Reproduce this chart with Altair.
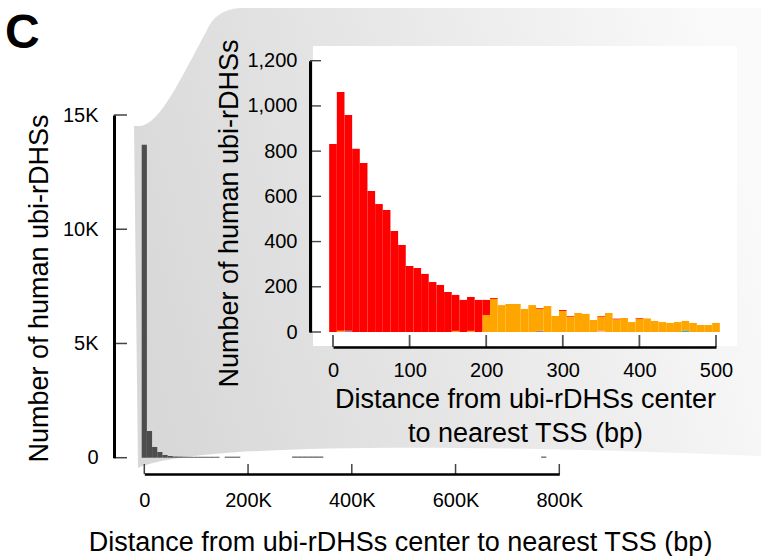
import altair as alt
import pandas as pd

FONT = "Liberation Sans"

# ---------------- data ----------------
# main histogram (10 kb bins, bin centres in bp)
main_centers = [0, 10000, 20000, 30000, 40000, 50000, 60000, 70000, 80000, 90000,
                100000, 110000, 120000, 130000, 140000, 160000, 170000, 180000,
                290000, 300000, 310000, 320000, 330000, 340000, 770000]
main_counts = [13700, 1170, 470, 250, 120, 75, 50, 45, 40, 40,
               40, 40, 40, 40, 40, 45, 45, 45,
               50, 50, 50, 50, 50, 50, 50]
main_x_ticks = [0, 200000, 400000, 600000, 800000]
main_y_ticks = [0, 5000, 10000, 15000]

# inset histogram (10 bp bins, bin centres in bp)
inset_centers = [0, 10, 20, 30, 40, 50, 60, 70, 80, 90,
                 100, 110, 120, 130, 140, 150, 160, 170, 180, 190,
                 200, 210, 220, 230, 240, 250, 260, 270, 280, 290,
                 300, 310, 320, 330, 340, 350, 360, 370, 380, 390,
                 400, 410, 420, 430, 440, 450, 460, 470, 480, 490,
                 500]
inset_red = [832, 1057, 955, 810, 748, 624, 566, 540, 447, 385,
             292, 283, 257, 221, 208, 177, 159, 142, 150, 142,
             67, 4, 0, 0, 0, 0, 0, 3, 0, 0,
             4, 3, 0, 0, 0, 3, 0, 3, 0, 0,
             3, 0, 0, 0, 0, 0, 0, 0, 0, 0,
             0]
inset_orange = [0, 5, 0, 0, 0, 0, 0, 0, 0, 0,
                0, 0, 0, 0, 0, 0, 5, 0, 5, 0,
                75, 146, 119, 124, 124, 102, 119, 98, 115, 71,
                93, 68, 84, 80, 53, 63, 84, 56, 62, 44,
                59, 60, 49, 44, 40, 44, 44, 40, 31, 31,
                40]
inset_grey = {20: 5, 270: 5}
inset_pink = {350: 5}
inset_cyan = {460: 5}
inset_x_ticks = [0, 100, 200, 300, 400, 500]
inset_y_ticks = [0, 200, 400, 600, 800, 1000, 1200]

categories = ["DNase-only", "DNase-H3K4me3", "CTCF-only", "Enhancer-like", "Promoter-like"]
cat_colors = ["#8f8f8f", "#ffb6c1", "#1eb4e6", "#ffa500", "#ff0000"]

# ---------------- tables ----------------
main_df = pd.DataFrame({"center": main_centers, "count": main_counts})

rows = []
series = [
    ("DNase-only", {c: inset_grey.get(c, 0) for c in inset_centers}),
    ("DNase-H3K4me3", {c: inset_pink.get(c, 0) for c in inset_centers}),
    ("CTCF-only", {c: inset_cyan.get(c, 0) for c in inset_centers}),
    ("Enhancer-like", dict(zip(inset_centers, inset_orange))),
    ("Promoter-like", dict(zip(inset_centers, inset_red))),
]
for rank, (cat, vals) in enumerate(series):
    for c in inset_centers:
        v = vals[c]
        if v > 0:
            rows.append({"center": c, "cat": cat, "rank": rank, "count": v})
inset_df = pd.DataFrame(rows)

one = pd.DataFrame({"k": [0]})

# ---------------- scales ----------------
main_x_scale = alt.Scale(domain=[0, 800000], range=[144.3, 559.3], nice=False, zero=False)
main_y_scale = alt.Scale(domain=[0, 15000], range=[457.7, 115], nice=False)
inset_x_scale = alt.Scale(domain=[0, 500], range=[333, 716], nice=False, zero=False)
inset_y_scale = alt.Scale(domain=[0, 1200], range=[332, 60.7], nice=False)

# ---------------- decoration: zoom band ----------------
band_path = ("M 138 468 L 134 126 L 140 126 C 160 124 180 80 207 30 "
             "C 212 18 222 9 240 8 L 761 8 L 761 456 C 520 446 200 440 138 468 Z")
band = alt.Chart(one).mark_point(
    shape=band_path, size=4, filled=True, opacity=1, strokeWidth=0,
    fill={"gradient": "linear", "x1": 0, "y1": 0.6, "x2": 1, "y2": 0.4,
          "stops": [{"offset": 0, "color": "#d8d8d8"},
                    {"offset": 0.5, "color": "#e8e8e8"},
                    {"offset": 1, "color": "#fafafa"}]}
).encode(x=alt.value(0), y=alt.value(0))

inset_bg = alt.Chart(one).mark_rect(color="white").encode(
    x=alt.value(313), x2=alt.value(737), y=alt.value(46), y2=alt.value(346))

# ---------------- main histogram ----------------
main_bars = alt.Chart(main_df).transform_calculate(
    start="datum.center - 5000", end="datum.center + 5000"
).mark_bar(color="#4d4d4d").encode(
    x=alt.X("start:Q", scale=main_x_scale, axis=alt.Axis(
        values=main_x_ticks, orient="bottom", offset=-82, zindex=1,
        labelExpr="datum.value == 0 ? '0' : (datum.value / 1000) + 'K'",
        labelPadding=16, domainWidth=2.5,
        title="Distance from ubi-rDHSs center to nearest TSS (bp)",
        titleX=400, titleY=76, titleAlign="center", titleBaseline="alphabetic")),
    x2="end:Q",
    y=alt.Y("count:Q", scale=main_y_scale, axis=alt.Axis(
        values=main_y_ticks, orient="left", offset=-114, zindex=1,
        labelExpr="datum.value == 0 ? '0' : (datum.value / 1000) + 'K'",
        labelPadding=16, domainWidth=3,
        title="Number of human ubi-rDHSs",
        titleX=-67, titleY=288, titleAngle=270, titleAlign="center",
        titleBaseline="alphabetic")),
    y2=alt.datum(0),
)

main_xt = alt.Chart(pd.DataFrame({"v": main_x_ticks})).mark_rule(
    color="#444444", strokeWidth=1.5).encode(
    x=alt.X("v:Q", scale=main_x_scale, axis=None), y=alt.value(464), y2=alt.value(474))
main_yt = alt.Chart(pd.DataFrame({"v": main_y_ticks})).mark_rule(
    color="#444444", strokeWidth=1.5).encode(
    y=alt.Y("v:Q", scale=main_y_scale, axis=None), x=alt.value(114), x2=alt.value(127))

# ---------------- inset histogram ----------------
inset_bars = alt.Chart(inset_df).transform_calculate(
    start="datum.center - 5", end="datum.center + 5"
).transform_stack(
    stack="count", groupby=["center"], sort=[alt.SortField("rank", order="ascending")],
    as_=["y0", "y1"]
).mark_bar().encode(
    x=alt.X("start:Q", scale=inset_x_scale, axis=alt.Axis(
        values=inset_x_ticks, orient="bottom", offset=-209, zindex=1,
        labelPadding=13, domainWidth=2.5,
        title=["Distance from ubi-rDHSs center", "to nearest TSS (bp)"],
        titleX=525, titleY=60, titleAlign="center", titleBaseline="alphabetic",
        titleLineHeight=34)),
    x2="end:Q",
    y=alt.Y("y0:Q", scale=inset_y_scale, axis=alt.Axis(
        values=inset_y_ticks, orient="left", offset=-310, zindex=1,
        labelExpr="format(datum.value, ',d')",
        labelPadding=13, domainWidth=3,
        title="Number of human ubi-rDHSs",
        titleX=-73, titleY=213, titleAngle=270, titleAlign="center",
        titleBaseline="alphabetic")),
    y2="y1:Q",
    color=alt.Color("cat:N", scale=alt.Scale(domain=categories, range=cat_colors), legend=None),
)

inset_xt = alt.Chart(pd.DataFrame({"v": inset_x_ticks})).mark_rule(
    color="#555555", strokeWidth=1.8).encode(
    x=alt.X("v:Q", scale=inset_x_scale, axis=None), y=alt.value(335), y2=alt.value(347))
inset_yt = alt.Chart(pd.DataFrame({"v": inset_y_ticks})).mark_rule(
    color="#444444", strokeWidth=1.4).encode(
    y=alt.Y("v:Q", scale=inset_y_scale, axis=None), x=alt.value(310), x2=alt.value(321))

panel = alt.Chart(one).mark_text(
    text="C", font=FONT, fontSize=48, fontWeight="bold", align="left",
    baseline="alphabetic", color="black").encode(x=alt.value(5), y=alt.value(48))

chart = alt.layer(
    band, inset_bg, main_bars, inset_bars, main_xt, main_yt, inset_xt, inset_yt, panel
).resolve_scale(
    x="independent", y="independent", color="independent"
).properties(
    width=761, height=556, padding=0,
    autosize=alt.AutoSizeParams(type="none"), background="white"
).configure_view(stroke=None).configure_axis(
    labelFont=FONT, titleFont=FONT, labelFontSize=20, titleFontSize=27,
    titleFontWeight="normal", labelColor="black", titleColor="black",
    domainColor="black", grid=False, ticks=False, labelFlush=False,
    labelOverlap=False
)

chart.save("out.html", embed_options={"renderer": "svg", "actions": False})
